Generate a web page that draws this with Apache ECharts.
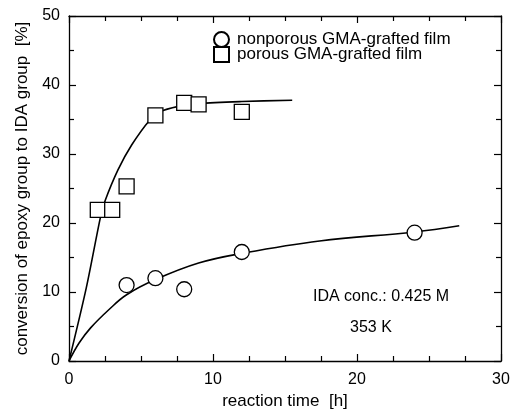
<!DOCTYPE html>
<html lang="en">
<head>
    <meta charset="UTF-8">
    <title>conversion of epoxy group</title>
    <script src="https://cdn.jsdelivr.net/npm/echarts@6/dist/echarts.min.js"></script>
    <style>
        html, body { margin: 0; padding: 0; background: #fff; }
    </style>
</head>
<body>
    <div id="main" style="width: 511px;height:414px;"></div>

    <script type="text/javascript">
        // measured points [time h, conversion %]
        var nonporousPts = [[4.0, 11.0], [6.0, 12.0], [8.0, 10.4], [12.0, 15.8], [24.0, 18.6]];
        var porousPts = [[2.0, 21.9], [3.0, 21.9], [4.0, 25.3], [6.0, 35.6], [8.0, 37.4], [9.0, 37.2], [12.0, 36.1]];

        // fitted curves
        var nonporousCurve = [[0, 0], [0.7, 2.6], [1.5, 4.8], [2.8, 7.5], [4, 9.6], [6, 11.8], [9, 14.2],
            [12, 15.6], [17.4, 17.4], [24, 18.7], [27.1, 19.6]];
        var porousCurve = [[0, 0], [1.2, 10.6], [2.2, 21.0], [2.5, 23.2], [3.4, 27.7], [4.35, 31.3],
            [5.6, 34.9], [6.3, 36.1], [7.6, 36.9], [9, 37.3], [12, 37.6], [15.5, 37.8]];

        var legendNames = ['nonporous GMA-grafted film', 'porous GMA-grafted film'];
        var notes = ['IDA conc.: 0.425 M', '353 K'];

        var myChart = echarts.init(document.getElementById('main'));
        var font = 'Liberation Sans, Arial, Helvetica, sans-serif';

        function axisBase(show) {
            return {
                type: 'value',
                axisLine: { show: true, onZero: false, lineStyle: { color: '#000', width: 1.3 } },
                axisTick: { show: true, inside: true, length: 7, lineStyle: { color: '#000', width: 1.2 } },
                minorTick: { show: true, length: 5, lineStyle: { color: '#000', width: 1.2 } },
                splitLine: { show: false },
                axisLabel: { show: show, color: '#000', fontSize: 16, fontFamily: font }
            };
        }

        var xBottom = Object.assign(axisBase(true), {
            min: 0, max: 30, interval: 10, position: 'bottom',
            name: 'reaction time  [h]', nameLocation: 'middle', nameGap: 29,
            nameTextStyle: { color: '#000', fontSize: 17, fontFamily: font }
        });
        xBottom.minorTick.splitNumber = 4;
        xBottom.axisLabel.margin = 11;
        var xTop = Object.assign(axisBase(false), { min: 0, max: 30, interval: 10, position: 'top' });
        xTop.minorTick.splitNumber = 4;

        var yLeft = Object.assign(axisBase(true), {
            min: 0, max: 50, interval: 10, position: 'left',
            name: 'conversion of epoxy group to IDA group  [%]', nameLocation: 'middle', nameGap: 35,
            nameTextStyle: { color: '#000', fontSize: 17, fontFamily: font }
        });
        yLeft.minorTick.splitNumber = 2;
        yLeft.axisLabel.margin = 9;
        var yRight = Object.assign(axisBase(false), { min: 0, max: 50, interval: 10, position: 'right' });
        yRight.minorTick.splitNumber = 2;

        var markStyle = { color: '#fff', borderColor: '#000', borderWidth: 1.3, opacity: 1 };

        option = {
            animation: false,
            backgroundColor: '#fff',
            grid: { left: 69, right: 10, top: 16, bottom: 53, outerBoundsMode: 'none', containLabel: false },
            legend: {
                data: legendNames.map(function (n, i) {
                    return { name: n, icon: i === 0 ? 'circle' : 'rect' };
                }),
                orient: 'vertical',
                left: 208, top: 26,
                itemWidth: 15, itemHeight: 15, itemGap: -2,
                textStyle: { color: '#000', fontSize: 17, fontFamily: font, padding: [0, 0, 0, 3] }
            },
            xAxis: [xBottom, xTop],
            yAxis: [yLeft, yRight],
            graphic: [
                { type: 'text', left: 313, top: 289, style: { text: notes[0], fill: '#000', font: '16px ' + font } },
                { type: 'text', left: 350, top: 320, style: { text: notes[1], fill: '#000', font: '16px ' + font } }
            ],
            series: [
                {
                    type: 'line', data: nonporousCurve, smooth: 0.4, showSymbol: false, silent: true,
                    lineStyle: { color: '#000', width: 1.6 }, z: 2
                },
                {
                    type: 'line', data: porousCurve, smooth: 0.3, showSymbol: false, silent: true,
                    lineStyle: { color: '#000', width: 1.6 }, z: 2
                },
                {
                    name: legendNames[0], type: 'scatter', data: nonporousPts,
                    symbol: 'circle', symbolSize: 15, itemStyle: markStyle, z: 5
                },
                {
                    name: legendNames[1], type: 'scatter', data: porousPts,
                    symbol: 'rect', symbolSize: 15, itemStyle: markStyle, z: 5
                }
            ]
        };

        myChart.setOption(option);
    </script>
</body>
</html>
